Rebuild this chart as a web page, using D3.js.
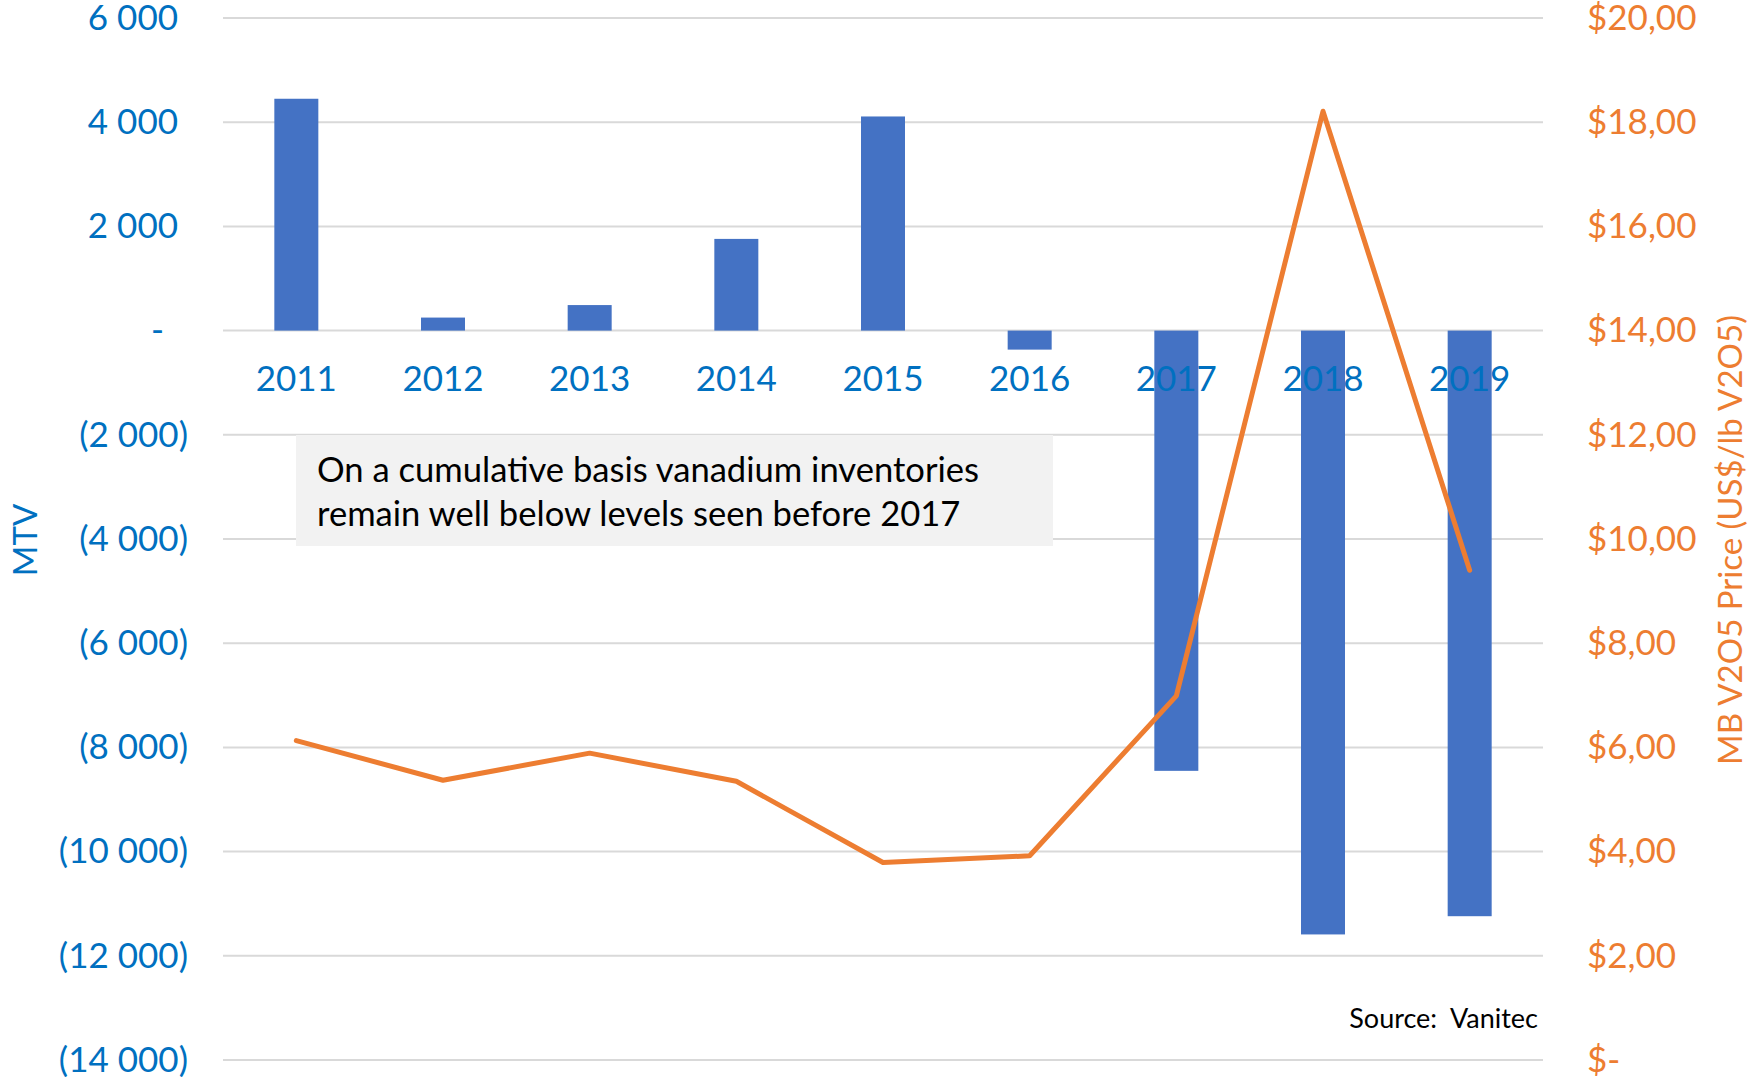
<!DOCTYPE html>
<html>
<head>
<meta charset="utf-8">
<script src="https://cdn.jsdelivr.net/npm/d3@7"></script>
<style>
	body { margin: 0; background: #fff; }
	svg text { font-family: Lato, "Open Sans", sans-serif; }
</style>
</head>
<body>
<div id="chart"></div>
<script>
// data
var years = ['2011','2012','2013','2014','2015','2016','2017','2018','2019'];
var inventory = [4450, 250, 490, 1760, 4110, -365, -8450, -11590, -11240];
var price = [6.13, 5.37, 5.89, 5.35, 3.79, 3.92, 6.99, 18.21, 9.40];
var leftTicks = [6000,4000,2000,0,-2000,-4000,-6000,-8000,-10000,-12000,-14000];
var rightTicks = [20,18,16,14,12,10,8,6,4,2,0];
var noteLines = ['On a cumulative basis vanadium inventories', 'remain well below levels seen before 2017'];

var c = {
	w: 1750,
	h: 1077,
	plot: {l:223, r:1543, t:18, b:1060},
	bar: '#4472C4',
	line: '#ED7D31',
	blue: '#0070C0',
	grid: '#D9D9D9'
};

var loc = d3.formatLocale({decimal: ',', thousands: ' ', grouping: [3], currency: ['$','']});
var fmtInt = loc.format(',.0f');
var fmtMoney = loc.format('$,.2f');

var svg = d3.select('#chart').append('svg')
	.attr('width', c.w)
	.attr('height', c.h);

var x = d3.scaleBand()
	.domain(years)
	.range([c.plot.l, c.plot.r])
	.paddingInner(0.7)
	.paddingOuter(0.35);

var y = d3.scaleLinear()
	.domain([-14000, 6000])
	.range([c.plot.b, c.plot.t]);

var y2 = d3.scaleLinear()
	.domain([0, 20])
	.range([c.plot.b, c.plot.t]);

// gridlines
svg.append('g')
	.attr('class', 'grid')
	.selectAll('line')
	.data(leftTicks)
	.enter()
	.append('line')
		.attr('x1', c.plot.l)
		.attr('x2', c.plot.r)
		.attr('y1', d=>y(d))
		.attr('y2', d=>y(d))
		.attr('stroke', c.grid)
		.attr('stroke-width', 2);

// note box
var note = svg.append('g').attr('class', 'note');
note.append('rect')
	.attr('x', 296)
	.attr('y', 435)
	.attr('width', 757)
	.attr('height', 111)
	.attr('fill', '#F2F2F2');
note.selectAll('text')
	.data(noteLines)
	.enter()
	.append('text')
		.attr('x', 317)
		.attr('y', (d,i)=>482+i*44)
		.attr('font-size', '34.6px')
		.attr('fill', '#000')
		.text(d=>d);

// bars
svg.append('g')
	.attr('class', 'bars')
	.selectAll('rect')
	.data(inventory)
	.enter()
	.append('rect')
		.attr('x', (d,i)=>x(years[i]))
		.attr('y', d=>y(Math.max(0,d)))
		.attr('width', x.bandwidth())
		.attr('height', d=>Math.abs(y(d)-y(0)))
		.attr('fill', c.bar);

// left axis
var yAxis = d3.axisLeft(y)
	.tickValues(leftTicks)
	.tickSize(0)
	.tickPadding(0)
	.tickFormat(d => d===0 ? '-' : d<0 ? '('+fmtInt(-d)+')' : fmtInt(d));

svg.append('g')
	.attr('class', 'axis y')
	.attr('transform', 'translate(188,0)')
	.call(yAxis)
	.call(g => g.select('.domain').remove())
	.call(g => g.selectAll('text')
		.attr('font-size', '35px')
		.attr('fill', c.blue)
		.attr('dx', d => d===0 ? -24 : d>0 ? -10 : 0));

// right axis
var y2Axis = d3.axisRight(y2)
	.tickValues(rightTicks)
	.tickSize(0)
	.tickPadding(0)
	.tickFormat(d => d===0 ? '$-' : fmtMoney(d));

svg.append('g')
	.attr('class', 'axis y2')
	.attr('transform', 'translate(1587,0)')
	.call(y2Axis)
	.call(g => g.select('.domain').remove())
	.call(g => g.selectAll('text')
		.attr('font-size', '35px')
		.attr('fill', c.line));

// category labels
svg.append('g')
	.attr('class', 'axis x')
	.selectAll('text')
	.data(years)
	.enter()
	.append('text')
		.attr('x', d=>x(d)+x.bandwidth()/2)
		.attr('y', y(0)+60)
		.attr('text-anchor', 'middle')
		.attr('font-size', '35px')
		.attr('fill', c.blue)
		.text(d=>d);

// price line
var line = d3.line()
	.x((d,i)=>x(years[i])+x.bandwidth()/2)
	.y(d=>y2(d));

svg.append('path')
	.datum(price)
	.attr('d', line)
	.attr('fill', 'none')
	.attr('stroke', c.line)
	.attr('stroke-width', 5)
	.attr('stroke-linejoin', 'round')
	.attr('stroke-linecap', 'round');

// axis titles
svg.append('text')
	.attr('transform', 'translate(37,540) rotate(-90)')
	.attr('text-anchor', 'middle')
	.attr('font-size', '33px')
	.attr('fill', c.blue)
	.text('MTV');

svg.append('text')
	.attr('transform', 'translate(1742,540) rotate(-90)')
	.attr('text-anchor', 'middle')
	.attr('font-size', '33px')
	.attr('fill', c.line)
	.text('MB V2O5 Price (US$/lb V2O5)');

svg.append('text')
	.attr('x', 1538)
	.attr('y', 1028)
	.attr('text-anchor', 'end')
	.attr('font-size', '27px')
	.attr('fill', '#000')
	.attr('xml:space', 'preserve')
	.style('white-space', 'pre')
	.text('Source:  Vanitec');
</script>
</body>
</html>
